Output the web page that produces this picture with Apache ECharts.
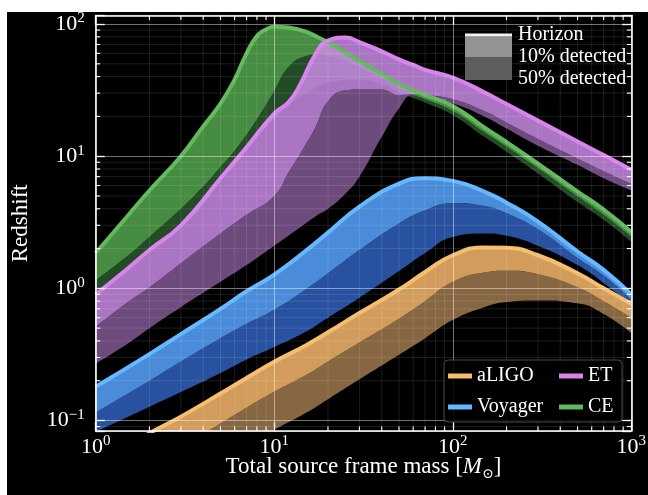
<!DOCTYPE html>
<html>
<head>
<meta charset="utf-8">
<script src="https://cdn.jsdelivr.net/npm/echarts@6/dist/echarts.min.js"></script>
<style>
  html, body { margin: 0; padding: 0; background: #fff; }
  #chart { position: absolute; left: 7px; top: 12px; width: 641px; height: 483px; background: #000; }
</style>
</head>
<body>
<div id="chart"></div>
<script>
// axis ranges
var xMin = 1, xMax = 1000;
var yMin = 0.0833, yMax = 116;

// aLIGO
var aligoMass    = [1, 2, 3, 5, 7, 10, 15, 20, 30, 50, 70, 100, 150, 200, 300, 500, 700, 1000];
var aligoHorizon = [0.045, 0.08, 0.107, 0.16, 0.21, 0.278, 0.37, 0.465, 0.65, 0.98, 1.33, 1.78, 2.04, 2.03, 1.78, 1.3, 1.0, 0.76];
var aligo10      = [0.026, 0.047, 0.063, 0.095, 0.125, 0.165, 0.22, 0.28, 0.39, 0.59, 0.8, 1.12, 1.32, 1.36, 1.28, 1.02, 0.8, 0.6];
var aligo50      = [0.014, 0.025, 0.033, 0.049, 0.064, 0.085, 0.114, 0.145, 0.205, 0.315, 0.42, 0.575, 0.72, 0.79, 0.81, 0.77, 0.64, 0.46];

// Voyager
var voyMass    = [1, 2, 3, 5, 7, 10, 15, 20, 30, 50, 70, 100, 150, 200, 300, 500, 700, 1000];
var voyHorizon = [0.18, 0.318, 0.45, 0.7, 0.95, 1.27, 1.92, 2.64, 4.15, 6.2, 6.8, 6.5, 5.4, 4.45, 3.2, 1.9, 1.38, 0.9];
var voy10      = [0.115, 0.2, 0.28, 0.42, 0.54, 0.69, 0.98, 1.3, 1.95, 3.1, 3.9, 4.4, 4.2, 3.7, 2.8, 1.7, 1.25, 0.82];
var voy50      = [0.082, 0.127, 0.164, 0.229, 0.29, 0.36, 0.47, 0.6, 0.85, 1.35, 1.85, 2.45, 2.6, 2.5, 2.1, 1.5, 1.1, 0.75];

// ET
var etMass    = [1, 1.5, 2, 3, 5, 7, 10, 12, 14, 17, 20, 25, 30, 40, 50, 60, 70, 100, 150, 200, 300, 500, 700, 1000];
var etHorizon = [0.9, 1.4, 1.95, 3.0, 6.8, 11.7, 21, 25.5, 35, 59, 75, 79, 73, 62, 54, 49, 45, 39.3, 30.5, 24.8, 18.6, 12.9, 10.2, 7.9];
var et10      = [0.51, 0.78, 1.02, 1.55, 2.6, 3.6, 5.0, 7.5, 10.5, 16.5, 26, 31.5, 32, 32, 29, 29.5, 29, 27, 22, 18, 13.5, 9.6, 7.7, 6.2];
var et50      = [0.27, 0.38, 0.5, 0.72, 1.12, 1.5, 2.1, 2.5, 2.9, 3.5, 4.0, 5.2, 7.0, 14, 23, 29, 28, 25, 20, 16.2, 12, 8.6, 6.8, 5.5];

// CE
var ceMass    = [1, 1.5, 2, 3, 4, 5, 6, 7, 8, 9, 10, 12, 15, 18, 20, 30, 40, 50, 60, 70, 100, 150, 200, 300, 500, 700, 1000];
var ceHorizon = [1.85, 3.5, 5.5, 10, 16.8, 25, 38, 60, 81, 91, 95.5, 94, 87.5, 78, 73, 52.5, 42, 35, 31.5, 29, 24, 16.5, 12.8, 8.8, 5.4, 3.95, 2.67];
var ce10      = [1.15, 1.75, 2.45, 4.0, 5.9, 8.3, 11, 14.5, 19, 24.5, 31, 47, 57, 59, 58, 47, 38.5, 32.5, 29, 27, 22, 15.2, 11.8, 8.1, 4.95, 3.6, 2.45];
var ce50      = [0.95, 1.4, 1.9, 2.9, 4.3, 6.5, 8.5, 11, 14, 16.5, 19, 24, 30, 34, 36, 38, 35, 30.5, 27.5, 25.5, 20.5, 14, 10.8, 7.4, 4.5, 3.3, 2.25];

var serif = '"Liberation Serif", "DejaVu Serif", serif';

// draw order: first is at the bottom
var detectors = [
  { name: 'Voyager', mass: voyMass, horizon: voyHorizon, p10: voy10, p50: voy50,
    line: '#64b8ff', light: 'rgba(87,165,255,0.85)', dark: 'rgba(47,96,188,0.85)' },
  { name: 'aLIGO', mass: aligoMass, horizon: aligoHorizon, p10: aligo10, p50: aligo50,
    line: '#f5be6e', light: 'rgba(247,185,108,0.85)', dark: 'rgba(159,121,78,0.85)' },
  { name: 'CE', mass: ceMass, horizon: ceHorizon, p10: ce10, p50: ce50,
    line: '#62b95d', light: 'rgba(82,165,76,0.85)', dark: 'rgba(41,88,45,0.85)' },
  { name: 'ET', mass: etMass, horizon: etHorizon, p10: et10, p50: et50,
    line: '#d884ec', light: 'rgba(200,139,229,0.85)', dark: 'rgba(129,88,147,0.85)' }
];

var smooth = 0.5;

// bands are stacked on the y dimension: data rows are [y, x]
function detectorSeries(d) {
  var common = {
    type: 'line', stack: d.name + '-band', encode: { x: 1, y: 0 },
    smooth: smooth, symbol: 'none', showSymbol: false, silent: true,
    lineStyle: { width: 0, opacity: 0 }, emphasis: { disabled: true }, z: 2
  };
  var base = d.mass.map(function (m, i) { return [d.p50[i], m]; });
  var dark = d.mass.map(function (m, i) { return [d.p10[i] - d.p50[i], m]; });
  var light = d.mass.map(function (m, i) { return [d.horizon[i] - d.p10[i], m]; });
  return [
    Object.assign({}, common, { name: d.name + ' 50%', data: base }),
    Object.assign({}, common, { name: d.name + ' 10%', data: dark, areaStyle: { color: d.dark, opacity: 1 } }),
    Object.assign({}, common, { name: d.name + ' hz', data: light, areaStyle: { color: d.light, opacity: 1 } }),
    {
      type: 'line', name: d.name, color: d.line,
      data: d.mass.map(function (m, i) { return [m, d.horizon[i]]; }),
      smooth: smooth, symbol: 'none', showSymbol: false, silent: true,
      lineStyle: { color: d.line, width: 4 }, itemStyle: { color: d.line },
      emphasis: { disabled: true }, z: 2
    }
  ];
}

// minor tick positions (2..9 per decade)
var xMinor = [], yMinor = [];
[1, 10, 100].forEach(function (d) {
  for (var j = 2; j <= 9; j++) xMinor.push(j * d);
});
[0.01, 0.1, 1, 10].forEach(function (d) {
  for (var j = 2; j <= 9; j++) {
    var v = j * d;
    if (v > yMin && v < yMax) yMinor.push(v);
  }
});

function powLabel(v) {
  var e = Math.log10(v);
  var r = Math.round(e);
  if (Math.abs(e - r) > 1e-6) return '';
  return '{b|10}{s|' + (r < 0 ? '\u2212' + (-r) : r) + '}';
}

var labelRich = {
  b: { color: '#fff', fontFamily: serif, fontSize: 22, lineHeight: 26 },
  s: { color: '#fff', fontFamily: serif, fontSize: 15, lineHeight: 15, verticalAlign: 'top' }
};

var frame = { show: true, onZero: false, lineStyle: { color: '#fff', width: 1.6 } };
var majorTick = { show: true, inside: true, length: 9, lineStyle: { color: '#fff', width: 1.3 } };
var majorGrid = { show: true, lineStyle: { color: 'rgba(255,255,255,0.45)', width: 1 } };

var minorGridColor = 'rgba(255,255,255,0.14)';

function renderXMinor(params, api) {
  var cs = params.coordSys;
  var x = api.coord([api.value(0), api.value(1)])[0];
  var top = cs.y, bot = cs.y + cs.height;
  return {
    type: 'group', children: [
      { type: 'line', shape: { x1: x, y1: top, x2: x, y2: bot }, style: { stroke: minorGridColor, lineWidth: 0.8 } },
      { type: 'line', shape: { x1: x, y1: bot, x2: x, y2: bot - 4.5 }, style: { stroke: '#fff', lineWidth: 1.1 } },
      { type: 'line', shape: { x1: x, y1: top, x2: x, y2: top + 4.5 }, style: { stroke: '#fff', lineWidth: 1.1 } }
    ]
  };
}

function renderYMinor(params, api) {
  var cs = params.coordSys;
  var y = api.coord([api.value(0), api.value(1)])[1];
  var left = cs.x, right = cs.x + cs.width;
  return {
    type: 'group', children: [
      { type: 'line', shape: { x1: left, y1: y, x2: right, y2: y }, style: { stroke: minorGridColor, lineWidth: 0.8 } },
      { type: 'line', shape: { x1: left, y1: y, x2: left + 4.5, y2: y }, style: { stroke: '#fff', lineWidth: 1.1 } },
      { type: 'line', shape: { x1: right, y1: y, x2: right - 4.5, y2: y }, style: { stroke: '#fff', lineWidth: 1.1 } }
    ]
  };
}

var series = [];
detectors.forEach(function (d) { series = series.concat(detectorSeries(d)); });
series.push({
  type: 'custom', name: 'xminor', silent: true, z: 5,
  data: xMinor.map(function (v) { return [v, 1]; }), renderItem: renderXMinor
});
series.push({
  type: 'custom', name: 'yminor', silent: true, z: 5,
  data: yMinor.map(function (v) { return [10, v]; }), renderItem: renderYMinor
});

var legendText = { color: '#fff', fontFamily: serif, fontSize: 20, lineHeight: 20 };

var chart = echarts.init(document.getElementById('chart'));
chart.setOption({
  animation: false,
  backgroundColor: '#000',
  grid: { left: 88.7, right: 16.7, top: 3.5, bottom: 64, outerBoundsMode: 'none' },
  xAxis: [
    {
      type: 'log', logBase: 10, min: xMin, max: xMax, position: 'bottom', z: 5,
      axisLine: frame, axisTick: majorTick, splitLine: majorGrid, minorTick: { show: false },
      axisLabel: { show: true, margin: 3, formatter: powLabel, rich: labelRich, color: '#fff', showMinLabel: true, showMaxLabel: true },
      name: 'Total source frame mass [{m|M}{o|\u2299}]', nameLocation: 'middle', nameGap: 22,
      nameMoveOverlap: false,
      nameTextStyle: {
        color: '#fff', fontFamily: serif, fontSize: 23, lineHeight: 28,
        rich: {
          m: { color: '#fff', fontFamily: serif, fontSize: 23, fontStyle: 'italic', lineHeight: 28 },
          o: { color: '#fff', fontFamily: serif, fontSize: 14, lineHeight: 14, verticalAlign: 'bottom' }
        }
      }
    },
    {
      type: 'log', logBase: 10, min: xMin, max: xMax, position: 'top', z: 5,
      axisLine: frame, axisTick: majorTick, splitLine: { show: false }, axisLabel: { show: false }
    }
  ],
  yAxis: [
    {
      type: 'log', logBase: 10, min: yMin, max: yMax, position: 'left', z: 5,
      axisLine: frame, axisTick: majorTick, splitLine: majorGrid, minorTick: { show: false },
      axisLabel: { show: true, margin: 11, formatter: powLabel, rich: labelRich, color: '#fff' },
      name: 'Redshift', nameLocation: 'middle', nameGap: 63, nameMoveOverlap: false,
      nameTextStyle: { color: '#fff', fontFamily: serif, fontSize: 23 }
    },
    {
      type: 'log', logBase: 10, min: yMin, max: yMax, position: 'right', z: 5,
      axisLine: frame, axisTick: majorTick, splitLine: { show: false }, axisLabel: { show: false }
    }
  ],
  legend: [
    {
      data: ['aLIGO', 'Voyager'], orient: 'vertical', left: 441, top: 354, padding: 0,
      itemWidth: 24, itemHeight: 5, itemGap: 11, icon: 'rect', selectedMode: false,
      textStyle: legendText, z: 31
    },
    {
      data: ['ET', 'CE'], orient: 'vertical', left: 552, top: 354, padding: 0,
      itemWidth: 24, itemHeight: 5, itemGap: 11, icon: 'rect', selectedMode: false,
      textStyle: legendText, z: 31
    }
  ],
  graphic: [
    // box behind the detector legend
    { type: 'rect', z: 30, shape: { x: 437, y: 348, width: 178, height: 62, r: 4 },
      style: { fill: 'rgba(0,0,0,0.85)', stroke: '#4a4a4a', lineWidth: 1 } },
    // horizon / detection fraction key
    { type: 'rect', z: 30, shape: { x: 458, y: 24.5, width: 47, height: 20.5 }, style: { fill: '#939393' } },
    { type: 'rect', z: 30, shape: { x: 458, y: 45, width: 47, height: 23 }, style: { fill: '#5e5e5e' } },
    { type: 'rect', z: 30, shape: { x: 458, y: 21.5, width: 47, height: 3 }, style: { fill: '#f2f2f2' } },
    { type: 'text', z: 30, x: 511, y: 23, style: { text: 'Horizon', fill: '#fff', font: '20px ' + serif, verticalAlign: 'middle' } },
    { type: 'text', z: 30, x: 511, y: 45, style: { text: '10% detected', fill: '#fff', font: '20px ' + serif, verticalAlign: 'middle' } },
    { type: 'text', z: 30, x: 511, y: 67, style: { text: '50% detected', fill: '#fff', font: '20px ' + serif, verticalAlign: 'middle' } }
  ],
  series: series
});
</script>
</body>
</html>
